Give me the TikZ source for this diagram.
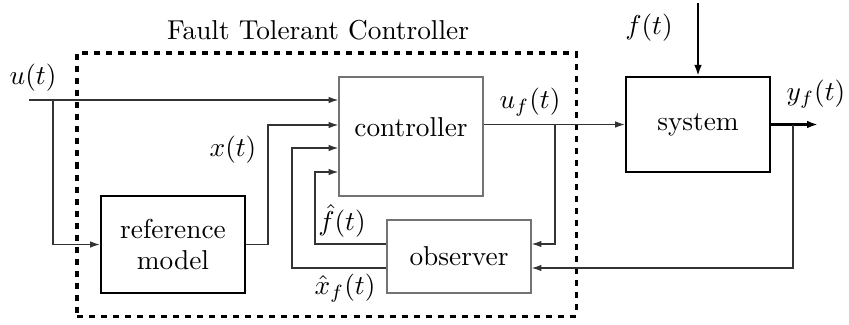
\documentclass[tikz,border=0pt]{standalone}
\usetikzlibrary{arrows.meta,calc}
\begin{document}
\begin{tikzpicture}[x=0.366pt,y=-0.366pt,
  thinbox/.style={draw=black!55,line width=0.45pt,rectangle,inner sep=0pt},
  thickbox/.style={draw=black,line width=0.8pt,rectangle,inner sep=0pt,align=center},
  conn/.style={draw=black!80,line width=0.45pt,-{Latex[length=3.6pt,width=2.4pt]}},
  thickconn/.style={draw=black,line width=0.8pt,-{Latex[length=4pt,width=2.8pt]}},
  ftcbox/.style={draw=black,line width=1.1pt,dash pattern=on 2.2pt off 2.2pt},
  lbl/.style={inner sep=0pt}]
\useasboundingbox (0,0) rectangle (849,324);
% dashed FTC frame
\node[ftcbox,rectangle,minimum width={499*0.366pt},minimum height={263*0.366pt},inner sep=0pt] (ftc) at (326.5,184.5) {};
\node[lbl] (title) at (318,30) {Fault Tolerant Controller};
% blocks
\node[thinbox,minimum width={144*0.366pt},minimum height={119*0.366pt}] (ctrl) at (411,136.5) {};
\node[lbl] (ctrltext) at (411,127) {controller};
\node[thinbox,minimum width={144*0.366pt},minimum height={73*0.366pt}] (obs) at (459,256.5) {observer};
\node[thickbox,minimum width={144*0.366pt},minimum height={97*0.366pt}] (ref) at (173,244.5) {reference\\[-1pt]model};
\node[thickbox,minimum width={144*0.366pt},minimum height={95*0.366pt}] (sys) at (698,124.5) {system};
% ports and free ends
\coordinate (uin) at (29,100);
\coordinate (ub) at (53,100);
\coordinate (xk) at (268,125);
\coordinate (xhk) at (292,148);
\coordinate (fhk) at (315,172);
\coordinate (ufb) at (555,124.5);
\coordinate (obsin1) at ($(obs.east)+(0,-12.5)$);
\coordinate (obsin2) at ($(obs.east)+(0,11.5)$);
\coordinate (obsout1) at ($(obs.west)+(0,-12.5)$);
\coordinate (obsout2) at ($(obs.west)+(0,11.5)$);
\coordinate (yb) at (793,124.5);
\coordinate (yout) at (818,124.5);
\coordinate (fin) at (698,3);
% connectors
\draw[conn] (uin) -- (ctrl.west |- uin);
\draw[conn] (ub) |- (ref.west);
\draw[conn] (ref.east) -| (xk) -- (ctrl.west |- xk);
\draw[conn] (obsout2) -| (xhk) -- (ctrl.west |- xhk);
\draw[conn] (obsout1) -| (fhk) -- (ctrl.west |- fhk);
\draw[conn] (ctrl.east |- sys.west) -- (sys.west);
\draw[conn] (ufb) |- (obsin1);
\draw[thickconn] (sys.east) -- (yout);
\draw[conn] (yb) |- (obsin2);
\draw[thickconn] (fin) -- (sys.north);
% labels
\node[lbl] (ulbl) at (33,78) {$u(t)$};
\node[lbl] (xlbl) at (233,150) {$x(t)$};
\node[lbl] (fhlbl) at (342,221) {$\hat f(t)$};
\node[lbl] (xhlbl) at (345,288) {$\hat x_f(t)$};
\node[lbl] (uflbl) at (530,102) {$u_f(t)$};
\node[lbl] (flbl) at (649,28) {$f(t)$};
\node[lbl] (yflbl) at (816,94) {$y_f(t)$};
\end{tikzpicture}
\end{document}
